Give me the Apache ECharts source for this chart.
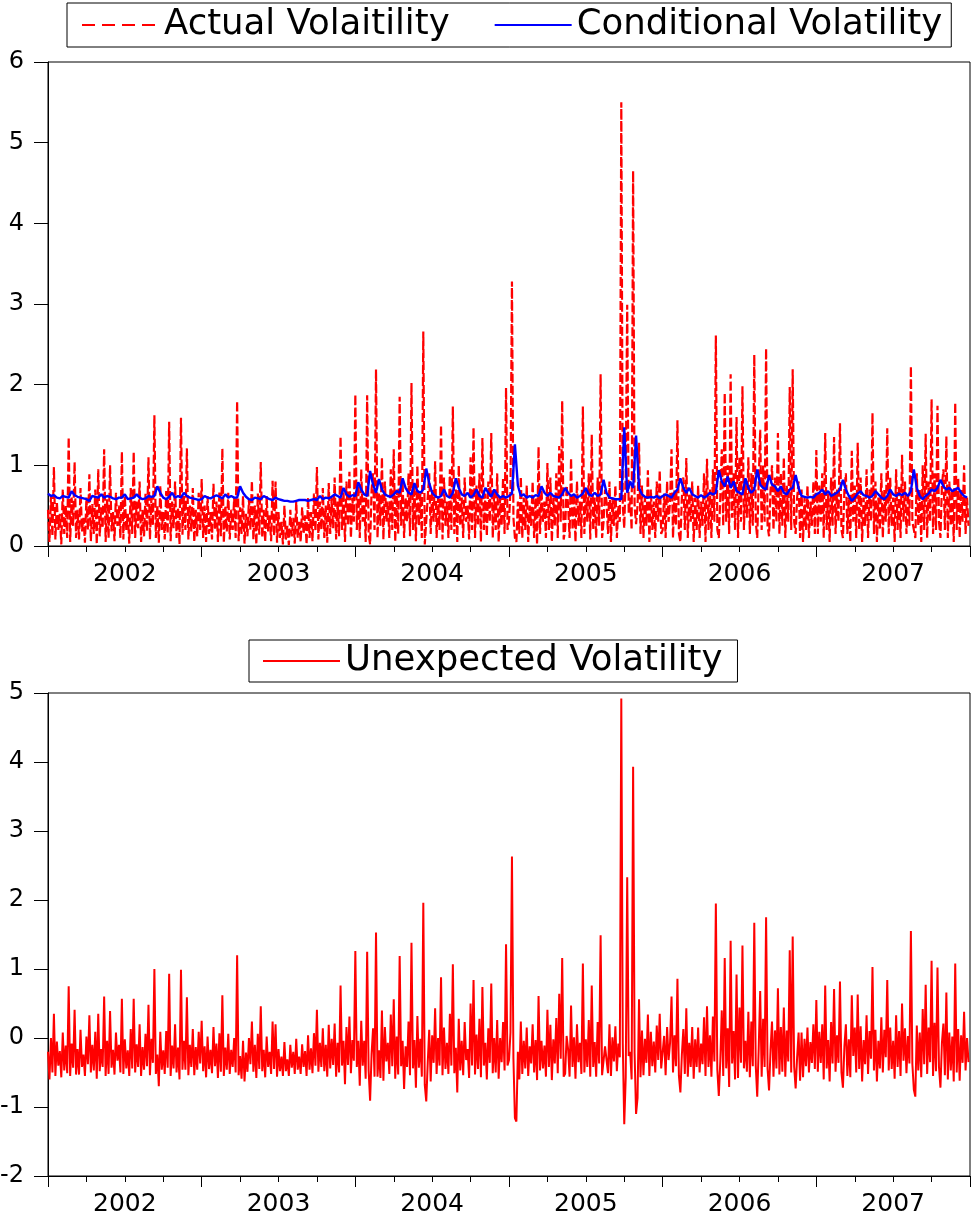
<!DOCTYPE html>
<html>
<head>
<meta charset="utf-8">
<title>Volatility</title>
<script src="https://cdn.jsdelivr.net/npm/echarts@6/dist/echarts.min.js"></script>
<style>
  html, body { margin: 0; padding: 0; background: #fff; }
  #main { width: 972px; height: 1216px; }
</style>
</head>
<body>
<div id="main"></div>
<script>
// x axis year labels
const years = ['2002', '2003', '2004', '2005', '2006', '2007'];

// actual volatility, about two values per week
const actual2002 = [
  0.45,0.05,0.62,0.12,0.98,0.08,0.55,0.2,0.4,0.02,
  0.7,0.15,0.5,0.1,1.35,0.05,0.6,0.25,1.04,0.1,
  0.45,0.08,0.72,0.18,0.35,0.04,0.6,0.2,0.89,0.06,
  0.52,0.15,0.7,0.02,0.95,0.12,0.48,0.22,1.2,0.05,
  0.58,0.1,1.0,0.18,0.42,0.06,0.66,0.25,0.5,0.1,
  1.17,0.08,0.62,0.2,0.4,0.03,0.72,0.15,1.17,0.1,
  0.55,0.22,0.8,0.05,0.45,0.12,0.65,0.18,1.1,0.08,
  0.6,0.25,1.62,0.1,0.5,0.04,0.75,0.2,0.42,0.08,
  0.68,0.15,1.54,0.06,0.55,0.22,0.8,0.1,0.48,0.02,
  1.59,0.14,0.62,0.2,1.21,0.08,0.5,0.18,0.72,0.05,
  0.45,0.12,0.66,0.2];
const actual2003 = [
  0.83,0.1,0.5,0.05,0.62,0.15,0.42,0.08,0.77,0.2,
  0.55,0.05,0.68,0.12,1.21,0.04,0.5,0.18,0.66,0.08,
  0.45,0.2,0.6,0.1,1.8,0.06,0.48,0.15,0.62,0.03,
  0.4,0.12,0.58,0.2,0.81,0.08,0.5,0.02,0.65,0.14,
  1.04,0.1,0.45,0.05,0.62,0.18,0.38,0.06,0.81,0.12,
  0.8,0.04,0.42,0.1,0.3,0.02,0.5,0.08,0.25,0.01,
  0.45,0.12,0.35,0.03,0.55,0.1,0.3,0.05,0.48,0.15,
  0.38,0.02,0.6,0.1,0.42,0.06,0.65,0.18,0.98,0.08,
  0.55,0.2,0.72,0.1,0.5,0.04,0.78,0.15,0.6,0.22,
  0.85,0.08,0.55,0.12,1.36,0.2,0.68,0.05,0.8,0.25,
  0.92,0.1,0.6,0.3];
const actual2004 = [
  1.88,0.2,0.75,0.1,0.95,0.3,0.6,0.05,1.87,0.15,
  0.02,0.7,0.9,0.2,2.19,0.1,0.65,0.25,1.1,0.08,
  0.8,0.3,0.55,0.1,0.95,0.2,1.2,0.05,0.7,0.15,
  1.85,0.25,0.8,0.1,0.6,0.3,0.9,0.12,2.02,0.2,
  0.75,0.06,1.0,0.25,0.65,0.1,2.66,0.02,0.04,0.6,
  0.9,0.15,0.7,0.3,1.05,0.1,0.6,0.2,1.5,0.08,
  0.85,0.25,0.55,0.1,0.95,0.2,1.73,0.15,0.7,0.05,
  1.0,0.25,0.6,0.1,0.85,0.3,0.5,0.08,1.1,0.2,
  1.47,0.1,0.75,0.25,0.9,0.05,1.34,0.2,0.65,0.12,
  0.8,0.3,1.4,0.1,0.7,0.2,0.9,0.05,0.6,0.25,
  0.85,0.15,1.96,0.2];
const actual2005 = [
  0.3,0.7,3.28,0.35,0.1,0.05,0.55,0.15,0.86,0.1,
  0.6,0.2,0.75,0.05,0.5,0.25,0.8,0.1,0.6,0.02,
  1.23,0.15,0.7,0.3,0.55,0.1,1.03,0.2,0.85,0.05,
  0.6,0.25,0.9,0.1,1.24,0.3,1.8,0.08,0.2,0.75,
  0.5,0.1,1.09,0.2,0.65,0.05,0.8,0.25,0.55,0.1,
  1.73,0.15,0.7,0.3,0.9,0.08,1.38,0.2,0.6,0.1,
  0.85,0.25,2.13,0.1,0.3,0.7,0.55,0.15,0.8,0.05,
  0.6,0.25,0.75,0.1,0.5,0.3,5.5,0.5,0.22,0.9,
  2.99,0.4,0.6,0.2,4.65,0.5,0.27,0.5,1.28,0.15,
  0.75,0.1,0.6,0.25,0.94,0.05,0.7,0.2,0.55,0.1,
  0.8,0.3,0.94,0.15];
const actual2006 = [
  0.2,0.65,0.1,0.8,0.3,0.55,1.2,0.1,0.7,0.25,
  1.56,0.15,0.05,0.6,0.85,0.2,1.09,0.1,0.65,0.3,
  0.8,0.05,0.6,0.2,0.75,0.1,0.55,0.25,0.9,0.05,
  1.08,0.2,0.7,0.1,0.95,0.3,2.61,0.2,0.1,0.6,
  1.2,0.25,1.9,0.3,1.0,0.15,2.13,0.35,0.9,0.2,
  1.6,0.1,1.1,0.3,1.98,0.2,0.8,0.35,1.1,0.15,
  0.9,0.25,2.37,0.3,0.1,0.8,1.44,0.2,1.0,0.3,
  2.45,0.25,0.12,0.7,1.0,0.2,0.85,0.3,1.4,0.15,
  0.9,0.25,1.1,0.1,0.75,0.3,1.97,0.2,2.19,0.3,
  0.15,0.6,0.8,0.1,0.7,0.05,0.6,0.2,0.75,0.1,
  0.55,0.25,0.8,0.15];
const actual2007 = [
  1.19,0.15,0.75,0.3,0.9,0.1,1.4,0.2,0.65,0.05,
  0.85,0.25,1.35,0.15,0.7,0.3,1.52,0.2,0.1,0.7,
  0.9,0.15,0.6,0.05,1.18,0.3,0.75,0.1,1.28,0.2,
  0.85,0.05,0.6,0.25,0.95,0.1,0.7,0.3,1.65,0.15,
  0.8,0.05,0.6,0.2,0.9,0.1,0.7,0.3,1.46,0.15,
  0.85,0.25,0.6,0.05,0.95,0.2,0.75,0.1,1.13,0.3,
  0.8,0.15,0.65,0.25,2.23,0.3,0.2,0.1,0.9,0.25,
  0.7,0.05,1.0,0.2,1.39,0.1,0.8,0.3,1.82,0.15,
  0.9,0.2,1.74,0.3,0.1,0.75,0.95,0.2,1.36,0.1,
  0.8,0.25,0.7,0.05,1.78,0.2,0.85,0.1,0.7,0.3,
  1.0,0.15,0.6,0.25];

// conditional volatility, one value per week
const cond2002 = [0.65,0.62,0.63,0.60,0.59,0.62,0.61,0.60,0.68,0.63,0.61,0.60,0.59,0.58,0.56,0.62,0.61,0.60,0.64,0.60,0.62,0.61,0.59,0.58,0.60,0.60,0.64,0.58,0.59,0.60,0.64,0.60,0.58,0.59,0.62,0.61,0.62,0.74,0.66,0.60,0.58,0.61,0.66,0.60,0.62,0.60,0.66,0.62,0.60,0.59,0.58,0.57];
const cond2003 = [0.58,0.62,0.60,0.59,0.61,0.63,0.61,0.59,0.64,0.60,0.62,0.60,0.60,0.74,0.66,0.61,0.58,0.57,0.60,0.59,0.58,0.62,0.60,0.58,0.57,0.60,0.58,0.57,0.56,0.56,0.55,0.55,0.56,0.57,0.57,0.57,0.56,0.57,0.58,0.57,0.62,0.58,0.60,0.59,0.61,0.64,0.62,0.60,0.72,0.64,0.61,0.63];
const cond2004 = [0.62,0.79,0.70,0.64,0.62,0.93,0.76,0.66,0.83,0.70,0.64,0.62,0.61,0.64,0.68,0.66,0.84,0.72,0.66,0.64,0.78,0.68,0.66,0.70,0.96,0.78,0.66,0.62,0.60,0.62,0.70,0.62,0.60,0.66,0.84,0.72,0.64,0.62,0.66,0.60,0.63,0.70,0.62,0.60,0.72,0.66,0.61,0.70,0.64,0.60,0.62,0.60];
const cond2005 = [0.62,0.65,1.26,0.75,0.62,0.64,0.60,0.62,0.60,0.63,0.62,0.74,0.66,0.62,0.66,0.62,0.61,0.60,0.64,0.72,0.66,0.62,0.64,0.60,0.62,0.65,0.72,0.64,0.62,0.66,0.62,0.64,0.82,0.66,0.60,0.59,0.58,0.58,0.58,1.47,0.66,0.80,0.72,1.37,0.72,0.64,0.61,0.60,0.61,0.60,0.62,0.59];
const cond2006 = [0.62,0.64,0.62,0.60,0.66,0.70,0.84,0.72,0.66,0.72,0.64,0.62,0.60,0.63,0.60,0.62,0.66,0.64,0.66,0.94,0.80,0.74,0.86,0.72,0.80,0.68,0.66,0.64,0.84,0.72,0.66,0.70,0.95,0.76,0.72,0.70,0.88,0.76,0.74,0.68,0.74,0.66,0.64,0.70,0.72,0.88,0.72,0.62,0.61,0.60,0.61,0.60];
const cond2007 = [0.64,0.66,0.70,0.64,0.68,0.62,0.64,0.66,0.70,0.82,0.70,0.62,0.56,0.60,0.65,0.68,0.63,0.62,0.60,0.62,0.68,0.64,0.60,0.58,0.62,0.70,0.64,0.62,0.65,0.63,0.66,0.62,0.68,0.95,0.72,0.62,0.58,0.62,0.65,0.70,0.68,0.72,0.82,0.74,0.70,0.72,0.68,0.70,0.72,0.66,0.62,0.60];

const actualYears = [actual2002, actual2003, actual2004, actual2005, actual2006, actual2007];
const condYears = [cond2002, cond2003, cond2004, cond2005, cond2006, cond2007];

// [fractional year, value] pairs
function toPoints(list) {
  let pts = [];
  list.forEach(function (arr, k) {
    arr.forEach(function (v, j) {
      pts.push([2002 + k + j / arr.length, v]);
    });
  });
  return pts;
}

const actualPts = toPoints(actualYears);
const condPts = toPoints(condYears);

// unexpected = actual - conditional of the same week
let unexpectedPts = [];
actualYears.forEach(function (arr, k) {
  const c = condYears[k];
  arr.forEach(function (v, j) {
    const w = Math.floor(j * c.length / arr.length);
    unexpectedPts.push([2002 + k + j / arr.length, Math.round((v - c[w]) * 100) / 100]);
  });
});

const font = 'DejaVu Sans';
const black = '#000';

function timeAxis(gi) {
  return {
    gridIndex: gi,
    type: 'value',
    min: 2002,
    max: 2008,
    interval: 1,
    axisLine: { onZero: false, lineStyle: { color: black, width: 1 } },
    axisTick: { length: 11, lineStyle: { color: black } },
    minorTick: { show: true, splitNumber: 4, length: 6, lineStyle: { color: black } },
    axisLabel: { show: false },
    splitLine: { show: false }
  };
}
function yearLabelAxis(gi) {
  return {
    gridIndex: gi,
    type: 'category',
    data: years,
    position: 'bottom',
    axisLine: { show: false, onZero: false },
    axisTick: { show: false },
    axisLabel: { fontFamily: font, fontSize: 25, color: black, margin: 16 },
    splitLine: { show: false }
  };
}
function valueAxis(gi, mn, mx) {
  return {
    gridIndex: gi,
    type: 'value',
    min: mn,
    max: mx,
    interval: 1,
    axisLine: { show: true, onZero: false, lineStyle: { color: black, width: 1 } },
    axisTick: { show: true, length: 14, lineStyle: { color: black } },
    axisLabel: { fontFamily: font, fontSize: 24, color: black, margin: 24 },
    splitLine: { show: false }
  };
}

const legendText = { fontFamily: font, fontSize: 35.5, color: black, lineHeight: 40 };
const noSymbol = { color: 'rgba(0,0,0,0)', borderWidth: 0, opacity: 0 };

const chart = echarts.init(document.getElementById('main'));
chart.setOption({
  animation: false,
  backgroundColor: '#fff',
  legend: [
    {
      left: 67, top: 3,
      itemWidth: 77, itemHeight: 14, itemGap: 44,
      padding: [2, 9, 2, 14],
      borderColor: black, borderWidth: 1,
      itemStyle: noSymbol,
      textStyle: legendText,
      data: [
        { name: 'Actual Volaitility', lineStyle: { type: [13, 7] } },
        { name: 'Conditional Volatility' }
      ]
    },
    {
      left: 249, top: 640,
      itemWidth: 77, itemHeight: 14,
      padding: [1, 15, 1, 13],
      borderColor: black, borderWidth: 1,
      itemStyle: noSymbol,
      textStyle: legendText,
      data: ['Unexpected Volatility']
    }
  ],
  grid: [
    { left: 48, top: 62, right: 2, height: 484, outerBoundsMode: 'none', show: true, borderColor: black, borderWidth: 1, backgroundColor: '#fff' },
    { left: 48, top: 693, right: 2, height: 483, outerBoundsMode: 'none', show: true, borderColor: black, borderWidth: 1, backgroundColor: '#fff' }
  ],
  xAxis: [timeAxis(0), yearLabelAxis(0), timeAxis(1), yearLabelAxis(1)],
  yAxis: [valueAxis(0, 0, 6), valueAxis(1, -2, 5)],
  series: [
    {
      name: 'Actual Volaitility',
      type: 'line',
      xAxisIndex: 0, yAxisIndex: 0,
      data: actualPts,
      symbol: 'none',
      lineStyle: { color: '#ff0000', width: 2.2, type: [9, 3] },
      itemStyle: { color: '#ff0000' }
    },
    {
      name: 'Conditional Volatility',
      type: 'line',
      xAxisIndex: 0, yAxisIndex: 0,
      data: condPts,
      symbol: 'none',
      lineStyle: { color: '#0000ff', width: 2.4 },
      itemStyle: { color: '#0000ff' }
    },
    {
      name: 'Unexpected Volatility',
      type: 'line',
      xAxisIndex: 2, yAxisIndex: 1,
      data: unexpectedPts,
      symbol: 'none',
      lineStyle: { color: '#ff0000', width: 2 },
      itemStyle: { color: '#ff0000' }
    }
  ]
});
</script>
</body>
</html>
